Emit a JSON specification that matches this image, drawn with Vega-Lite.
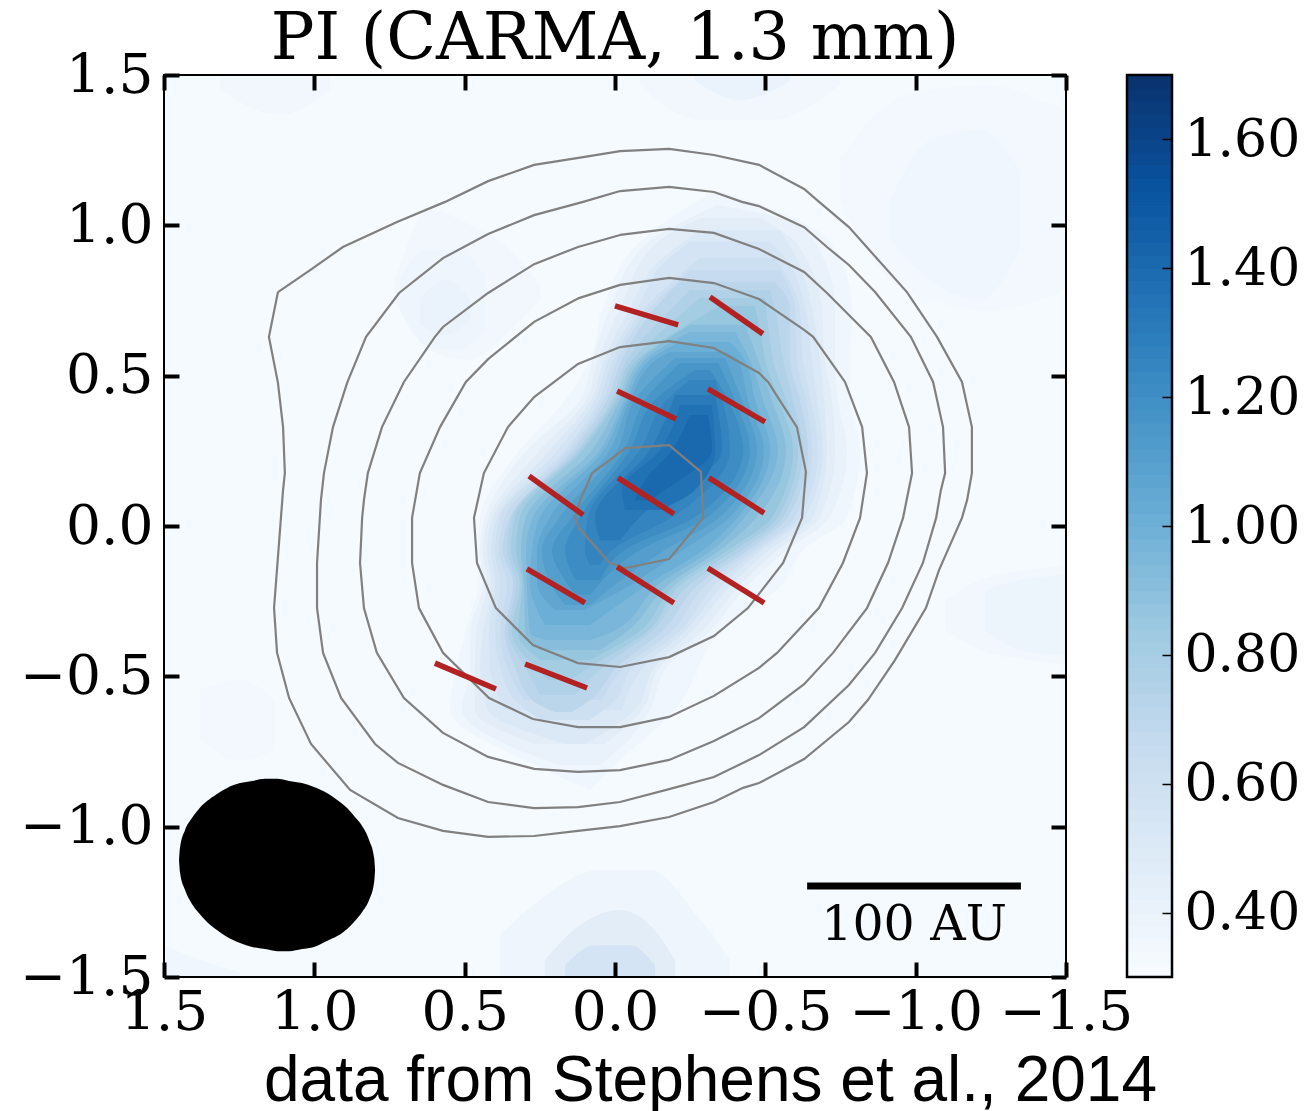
{"$schema":"https://vega.github.io/schema/vega-lite/v6.json","background":"white","padding":{"left":19,"top":7,"right":5,"bottom":5},"spacing":61,"bounds":"flush",
"datasets":{"blots":[
{"g":"a1","l":0.335,"x":1.38,"a":-0.545,"b":-0.712},{"g":"a1","l":0.335,"x":1.247,"a":-0.512,"b":-0.778},{"g":"a1","l":0.335,"x":1.13,"a":-0.579,"b":-0.745},
{"g":"a2","l":0.355,"x":1.5,"a":-1.394,"b":-1.5},{"g":"a2","l":0.355,"x":1.38,"a":-1.443,"b":-1.5},{"g":"a2","l":0.355,"x":1.247,"a":-1.483,"b":-1.5},
{"g":"a3","l":0.34,"x":0.732,"a":0.818,"b":0.752},{"g":"a3","l":0.34,"x":0.615,"a":1.051,"b":0.585},{"g":"a3","l":0.34,"x":0.482,"a":1.001,"b":0.552},{"g":"a3","l":0.34,"x":0.349,"a":0.918,"b":0.652},{"g":"a3","l":0.34,"x":0.249,"a":0.802,"b":0.752},
{"g":"a3b","l":0.365,"x":0.715,"a":0.818,"b":0.718},{"g":"a3b","l":0.365,"x":0.632,"a":0.918,"b":0.602},{"g":"a3b","l":0.365,"x":0.532,"a":0.918,"b":0.585},{"g":"a3b","l":0.365,"x":0.432,"a":0.835,"b":0.652},
{"g":"a3c","l":0.39,"x":0.649,"a":0.755,"b":0.669},{"g":"a3c","l":0.39,"x":0.565,"a":0.818,"b":0.635},{"g":"a3c","l":0.39,"x":0.482,"a":0.752,"b":0.685},
{"g":"a4","l":0.33,"x":-0.748,"a":1.217,"b":1.084},{"g":"a4","l":0.33,"x":-0.881,"a":1.384,"b":0.851},{"g":"a4","l":0.33,"x":-1.048,"a":1.45,"b":0.752},{"g":"a4","l":0.33,"x":-1.247,"a":1.467,"b":0.718},{"g":"a4","l":0.33,"x":-1.414,"a":1.417,"b":0.752},{"g":"a4","l":0.33,"x":-1.5,"a":1.384,"b":0.785},
{"g":"a4b","l":0.355,"x":-0.915,"a":1.084,"b":0.951},{"g":"a4b","l":0.355,"x":-1.048,"a":1.284,"b":0.818},{"g":"a4b","l":0.355,"x":-1.214,"a":1.317,"b":0.752},{"g":"a4b","l":0.355,"x":-1.347,"a":1.184,"b":0.918},
{"g":"a5","l":0.345,"x":-0.083,"a":1.5,"b":1.467},{"g":"a5","l":0.345,"x":-0.283,"a":1.5,"b":1.35},{"g":"a5","l":0.345,"x":-0.516,"a":1.5,"b":1.35},{"g":"a5","l":0.345,"x":-0.748,"a":1.5,"b":1.467},
{"g":"a5b","l":0.39,"x":-0.266,"a":1.5,"b":1.48},{"g":"a5b","l":0.39,"x":-0.416,"a":1.5,"b":1.417},{"g":"a5b","l":0.39,"x":-0.582,"a":1.5,"b":1.48},
{"g":"a5c","l":0.345,"x":1.314,"a":1.5,"b":1.45},{"g":"a5c","l":0.345,"x":1.114,"a":1.5,"b":1.367},{"g":"a5c","l":0.345,"x":0.948,"a":1.5,"b":1.45},
{"g":"a6","l":0.34,"x":-1.098,"a":-0.246,"b":-0.346},{"g":"a6","l":0.34,"x":-1.214,"a":-0.18,"b":-0.412},{"g":"a6","l":0.34,"x":-1.38,"a":-0.146,"b":-0.446},{"g":"a6","l":0.34,"x":-1.5,"a":-0.13,"b":-0.462},
{"g":"a6b","l":0.375,"x":-1.231,"a":-0.213,"b":-0.346},{"g":"a6b","l":0.375,"x":-1.347,"a":-0.18,"b":-0.412},{"g":"a6b","l":0.375,"x":-1.5,"a":-0.163,"b":-0.429},
{"g":"a7","l":0.36,"x":0.382,"a":-1.36,"b":-1.5},{"g":"a7","l":0.36,"x":0.249,"a":-1.243,"b":-1.5},{"g":"a7","l":0.36,"x":0.05,"a":-1.144,"b":-1.5},{"g":"a7","l":0.36,"x":-0.116,"a":-1.144,"b":-1.5},{"g":"a7","l":0.36,"x":-0.283,"a":-1.31,"b":-1.5},{"g":"a7","l":0.36,"x":-0.382,"a":-1.443,"b":-1.5},
{"g":"a8","l":0.45,"x":0.233,"a":-1.443,"b":-1.5},{"g":"a8","l":0.45,"x":0.116,"a":-1.327,"b":-1.5},{"g":"a8","l":0.45,"x":-0.017,"a":-1.277,"b":-1.5},{"g":"a8","l":0.45,"x":-0.116,"a":-1.327,"b":-1.5},{"g":"a8","l":0.45,"x":-0.2,"a":-1.443,"b":-1.5},
{"g":"a9","l":0.55,"x":0.166,"a":-1.46,"b":-1.5},{"g":"a9","l":0.55,"x":0.067,"a":-1.394,"b":-1.5},{"g":"a9","l":0.55,"x":-0.05,"a":-1.394,"b":-1.5},{"g":"a9","l":0.55,"x":-0.133,"a":-1.46,"b":-1.5}
],
"bands":[
{"l":0.35,"y":1.118,"a":-0.336,"b":-0.336},{"l":0.35,"y":0.945,"a":-0.083,"b":-0.715},{"l":0.35,"y":0.725,"a":0.04,"b":-0.788},{"l":0.35,"y":0.552,"a":0.083,"b":-0.782},{"l":0.35,"y":0.419,"a":0.166,"b":-0.782},{"l":0.35,"y":0.253,"a":0.316,"b":-0.815},{"l":0.35,"y":0.03,"a":0.449,"b":-0.772},{"l":0.35,"y":-0.08,"a":0.456,"b":-0.626},{"l":0.35,"y":-0.19,"a":0.456,"b":-0.559},{"l":0.35,"y":-0.356,"a":0.499,"b":-0.349},{"l":0.35,"y":-0.612,"a":0.549,"b":-0.2},{"l":0.35,"y":-0.795,"a":0.266,"b":0},{"l":0.35,"y":-0.878,"a":0.083,"b":0.083},
{"l":0.4,"y":1.068,"a":-0.336,"b":-0.336},{"l":0.4,"y":1.024,"a":-0.249,"b":-0.549},{"l":0.4,"y":0.945,"a":-0.11,"b":-0.665},{"l":0.4,"y":0.725,"a":0.017,"b":-0.732},{"l":0.4,"y":0.552,"a":0.076,"b":-0.732},{"l":0.4,"y":0.419,"a":0.116,"b":-0.742},{"l":0.4,"y":0.253,"a":0.293,"b":-0.772},{"l":0.4,"y":0.03,"a":0.432,"b":-0.715},{"l":0.4,"y":-0.08,"a":0.449,"b":-0.572},{"l":0.4,"y":-0.19,"a":0.439,"b":-0.449},{"l":0.4,"y":-0.356,"a":0.482,"b":-0.309},{"l":0.4,"y":-0.469,"a":0.482,"b":-0.173},{"l":0.4,"y":-0.612,"a":0.509,"b":-0.116},{"l":0.4,"y":-0.725,"a":0.366,"b":-0.033},{"l":0.4,"y":-0.795,"a":0.183,"b":0.05},
{"l":0.45,"y":1.024,"a":-0.283,"b":-0.482},{"l":0.45,"y":0.945,"a":-0.143,"b":-0.599},{"l":0.45,"y":0.725,"a":-0.017,"b":-0.688},{"l":0.45,"y":0.552,"a":0.057,"b":-0.698},{"l":0.45,"y":0.419,"a":0.096,"b":-0.722},{"l":0.45,"y":0.253,"a":0.249,"b":-0.732},{"l":0.45,"y":0.03,"a":0.419,"b":-0.682},{"l":0.45,"y":-0.08,"a":0.439,"b":-0.542},{"l":0.45,"y":-0.19,"a":0.426,"b":-0.422},{"l":0.45,"y":-0.356,"a":0.462,"b":-0.283},{"l":0.45,"y":-0.469,"a":0.466,"b":-0.15},{"l":0.45,"y":-0.612,"a":0.466,"b":-0.09},{"l":0.45,"y":-0.725,"a":0.266,"b":0.033},
{"l":0.5,"y":0.984,"a":-0.283,"b":-0.549},{"l":0.5,"y":0.868,"a":-0.133,"b":-0.615},{"l":0.5,"y":0.725,"a":-0.05,"b":-0.655},{"l":0.5,"y":0.552,"a":0.037,"b":-0.682},{"l":0.5,"y":0.419,"a":0.08,"b":-0.695},{"l":0.5,"y":0.253,"a":0.216,"b":-0.705},{"l":0.5,"y":0.03,"a":0.406,"b":-0.659},{"l":0.5,"y":-0.08,"a":0.426,"b":-0.512},{"l":0.5,"y":-0.19,"a":0.412,"b":-0.392},{"l":0.5,"y":-0.356,"a":0.439,"b":-0.249},{"l":0.5,"y":-0.469,"a":0.449,"b":-0.133},{"l":0.5,"y":-0.612,"a":0.422,"b":-0.066},{"l":0.5,"y":-0.725,"a":0.166,"b":0.1},
{"l":0.55,"y":0.945,"a":-0.249,"b":-0.516},{"l":0.55,"y":0.868,"a":-0.156,"b":-0.582},{"l":0.55,"y":0.725,"a":-0.076,"b":-0.632},{"l":0.55,"y":0.552,"a":0.023,"b":-0.655},{"l":0.55,"y":0.419,"a":0.067,"b":-0.672},{"l":0.55,"y":0.253,"a":0.19,"b":-0.692},{"l":0.55,"y":0.03,"a":0.392,"b":-0.632},{"l":0.55,"y":-0.08,"a":0.412,"b":-0.489},{"l":0.55,"y":-0.19,"a":0.399,"b":-0.366},{"l":0.55,"y":-0.356,"a":0.419,"b":-0.226},{"l":0.55,"y":-0.469,"a":0.416,"b":-0.096},{"l":0.55,"y":-0.612,"a":0.366,"b":-0.023},
{"l":0.6,"y":0.891,"a":-0.283,"b":-0.532},{"l":0.6,"y":0.725,"a":-0.1,"b":-0.615},{"l":0.6,"y":0.552,"a":0.007,"b":-0.625},{"l":0.6,"y":0.419,"a":0.053,"b":-0.652},{"l":0.6,"y":0.253,"a":0.166,"b":-0.675},{"l":0.6,"y":0.03,"a":0.382,"b":-0.615},{"l":0.6,"y":-0.08,"a":0.399,"b":-0.476},{"l":0.6,"y":-0.19,"a":0.382,"b":-0.339},{"l":0.6,"y":-0.356,"a":0.399,"b":-0.209},{"l":0.6,"y":-0.469,"a":0.382,"b":-0.06},{"l":0.6,"y":-0.579,"a":0.333,"b":0},{"l":0.6,"y":-0.645,"a":0.249,"b":0.083},
{"l":0.65,"y":0.851,"a":-0.249,"b":-0.549},{"l":0.65,"y":0.725,"a":-0.116,"b":-0.599},{"l":0.65,"y":0.552,"a":-0.007,"b":-0.605},{"l":0.65,"y":0.419,"a":0.04,"b":-0.635},{"l":0.65,"y":0.253,"a":0.153,"b":-0.655},{"l":0.65,"y":0.03,"a":0.366,"b":-0.599},{"l":0.65,"y":-0.08,"a":0.386,"b":-0.459},{"l":0.65,"y":-0.19,"a":0.359,"b":-0.309},{"l":0.65,"y":-0.356,"a":0.382,"b":-0.183},{"l":0.65,"y":-0.469,"a":0.359,"b":-0.033},{"l":0.65,"y":-0.579,"a":0.303,"b":0.043},
{"l":0.7,"y":0.812,"a":-0.216,"b":-0.532},{"l":0.7,"y":0.725,"a":-0.133,"b":-0.582},{"l":0.7,"y":0.552,"a":-0.023,"b":-0.582},{"l":0.7,"y":0.419,"a":0.027,"b":-0.615},{"l":0.7,"y":0.253,"a":0.14,"b":-0.642},{"l":0.7,"y":0.03,"a":0.349,"b":-0.575},{"l":0.7,"y":-0.08,"a":0.373,"b":-0.442},{"l":0.7,"y":-0.19,"a":0.339,"b":-0.283},{"l":0.7,"y":-0.356,"a":0.366,"b":-0.15},{"l":0.7,"y":-0.469,"a":0.333,"b":-0.007},{"l":0.7,"y":-0.579,"a":0.276,"b":0.083},{"l":0.7,"y":-0.619,"a":0.2,"b":0.143},
{"l":0.75,"y":0.785,"a":-0.249,"b":-0.516},{"l":0.75,"y":0.725,"a":-0.19,"b":-0.532},{"l":0.75,"y":0.552,"a":-0.04,"b":-0.559},{"l":0.75,"y":0.419,"a":0.013,"b":-0.592},{"l":0.75,"y":0.253,"a":0.126,"b":-0.625},{"l":0.75,"y":0.03,"a":0.343,"b":-0.559},{"l":0.75,"y":-0.08,"a":0.359,"b":-0.422},{"l":0.75,"y":-0.19,"a":0.329,"b":-0.253},{"l":0.75,"y":-0.356,"a":0.356,"b":-0.116},{"l":0.75,"y":-0.469,"a":0.299,"b":0.04},{"l":0.75,"y":-0.562,"a":0.249,"b":0.133},
{"l":0.8,"y":0.758,"a":-0.283,"b":-0.499},{"l":0.8,"y":0.612,"a":-0.116,"b":-0.516},{"l":0.8,"y":0.552,"a":-0.057,"b":-0.525},{"l":0.8,"y":0.419,"a":0.003,"b":-0.569},{"l":0.8,"y":0.253,"a":0.116,"b":-0.609},{"l":0.8,"y":0.03,"a":0.333,"b":-0.542},{"l":0.8,"y":-0.08,"a":0.346,"b":-0.399},{"l":0.8,"y":-0.19,"a":0.316,"b":-0.226},{"l":0.8,"y":-0.356,"a":0.343,"b":-0.1},{"l":0.8,"y":-0.469,"a":0.266,"b":0.083},{"l":0.8,"y":-0.512,"a":0.223,"b":0.15},
{"l":0.85,"y":0.732,"a":-0.349,"b":-0.466},{"l":0.85,"y":0.612,"a":-0.15,"b":-0.489},{"l":0.85,"y":0.552,"a":-0.073,"b":-0.499},{"l":0.85,"y":0.419,"a":-0.007,"b":-0.545},{"l":0.85,"y":0.253,"a":0.106,"b":-0.592},{"l":0.85,"y":0.03,"a":0.316,"b":-0.522},{"l":0.85,"y":-0.08,"a":0.329,"b":-0.376},{"l":0.85,"y":-0.19,"a":0.309,"b":-0.206},{"l":0.85,"y":-0.356,"a":0.323,"b":-0.073},{"l":0.85,"y":-0.446,"a":0.249,"b":0.083},
{"l":0.9,"y":0.669,"a":-0.249,"b":-0.432},{"l":0.9,"y":0.552,"a":-0.086,"b":-0.476},{"l":0.9,"y":0.419,"a":-0.017,"b":-0.522},{"l":0.9,"y":0.253,"a":0.076,"b":-0.569},{"l":0.9,"y":0.03,"a":0.296,"b":-0.472},{"l":0.9,"y":-0.08,"a":0.313,"b":-0.349},{"l":0.9,"y":-0.19,"a":0.303,"b":-0.183},{"l":0.9,"y":-0.356,"a":0.299,"b":-0.033},{"l":0.9,"y":-0.412,"a":0.249,"b":0.05},
{"l":0.95,"y":0.645,"a":-0.249,"b":-0.399},{"l":0.95,"y":0.552,"a":-0.1,"b":-0.449},{"l":0.95,"y":0.419,"a":-0.03,"b":-0.492},{"l":0.95,"y":0.253,"a":0.05,"b":-0.542},{"l":0.95,"y":0.03,"a":0.273,"b":-0.432},{"l":0.95,"y":-0.08,"a":0.296,"b":-0.323},{"l":0.95,"y":-0.19,"a":0.293,"b":-0.15},{"l":0.95,"y":-0.356,"a":0.283,"b":0.017},{"l":0.95,"y":-0.379,"a":0.233,"b":0.083},
{"l":1.0,"y":0.612,"a":-0.216,"b":-0.382},{"l":1.0,"y":0.552,"a":-0.116,"b":-0.432},{"l":1.0,"y":0.419,"a":-0.04,"b":-0.466},{"l":1.0,"y":0.253,"a":0.037,"b":-0.516},{"l":1.0,"y":0.03,"a":0.249,"b":-0.409},{"l":1.0,"y":-0.08,"a":0.276,"b":-0.293},{"l":1.0,"y":-0.19,"a":0.283,"b":-0.116},{"l":1.0,"y":-0.329,"a":0.233,"b":0.083},
{"l":1.05,"y":0.579,"a":-0.183,"b":-0.366},{"l":1.05,"y":0.552,"a":-0.136,"b":-0.409},{"l":1.05,"y":0.419,"a":-0.05,"b":-0.442},{"l":1.05,"y":0.253,"a":0.017,"b":-0.495},{"l":1.05,"y":0.03,"a":0.216,"b":-0.382},{"l":1.05,"y":-0.08,"a":0.259,"b":-0.226},{"l":1.05,"y":-0.19,"a":0.259,"b":-0.06},{"l":1.05,"y":-0.279,"a":0.2,"b":0.1},
{"l":1.1,"y":0.559,"a":-0.2,"b":-0.366},{"l":1.1,"y":0.419,"a":-0.066,"b":-0.422},{"l":1.1,"y":0.253,"a":-0.007,"b":-0.472},{"l":1.1,"y":0.03,"a":0.183,"b":-0.349},{"l":1.1,"y":-0.08,"a":0.243,"b":-0.166},{"l":1.1,"y":-0.19,"a":0.216,"b":-0.007},{"l":1.1,"y":-0.263,"a":0.166,"b":0.083},
{"l":1.15,"y":0.542,"a":-0.216,"b":-0.343},{"l":1.15,"y":0.419,"a":-0.1,"b":-0.399},{"l":1.15,"y":0.253,"a":-0.03,"b":-0.449},{"l":1.15,"y":0.03,"a":0.143,"b":-0.309},{"l":1.15,"y":-0.08,"a":0.21,"b":-0.083},{"l":1.15,"y":-0.19,"a":0.16,"b":0.05},{"l":1.15,"y":-0.229,"a":0.133,"b":0.083},
{"l":1.2,"y":0.519,"a":-0.266,"b":-0.316},{"l":1.2,"y":0.419,"a":-0.133,"b":-0.376},{"l":1.2,"y":0.253,"a":-0.05,"b":-0.426},{"l":1.2,"y":0.03,"a":0.116,"b":-0.266},{"l":1.2,"y":-0.08,"a":0.166,"b":-0.033},{"l":1.2,"y":-0.18,"a":0.133,"b":0.05},
{"l":1.25,"y":0.486,"a":-0.249,"b":-0.333},{"l":1.25,"y":0.419,"a":-0.173,"b":-0.356},{"l":1.25,"y":0.253,"a":-0.083,"b":-0.382},{"l":1.25,"y":0.03,"a":0.09,"b":-0.19},{"l":1.25,"y":-0.08,"a":0.1,"b":0.01},{"l":1.25,"y":-0.13,"a":0.083,"b":0.05},
{"l":1.3,"y":0.436,"a":-0.2,"b":-0.333},{"l":1.3,"y":0.253,"a":-0.116,"b":-0.356},{"l":1.3,"y":0.03,"a":0.066,"b":-0.083},{"l":1.3,"y":-0.047,"a":0.05,"b":-0.017},
{"l":1.35,"y":0.402,"a":-0.216,"b":-0.323},{"l":1.35,"y":0.253,"a":-0.15,"b":-0.333},{"l":1.35,"y":0.12,"a":-0.023,"b":-0.266},{"l":1.35,"y":0.053,"a":-0.033,"b":-0.15},
{"l":1.4,"y":0.369,"a":-0.249,"b":-0.309},{"l":1.4,"y":0.253,"a":-0.19,"b":-0.323},{"l":1.4,"y":0.153,"a":-0.1,"b":-0.216},{"l":1.4,"y":0.086,"a":-0.066,"b":-0.116}
],
"contours":[
{"c":1,"i":1,"x":1.121,"y":0.778},{"c":1,"i":2,"x":1.151,"y":0.629},{"c":1,"i":3,"x":1.121,"y":0.476},{"c":1,"i":4,"x":1.104,"y":0.329},{"c":1,"i":5,"x":1.098,"y":0.176},{"c":1,"i":6,"x":1.104,"y":0.12},{"c":1,"i":7,"x":1.134,"y":-0.273},{"c":1,"i":8,"x":1.124,"y":-0.422},{"c":1,"i":9,"x":1.084,"y":-0.572},{"c":1,"i":10,"x":1.011,"y":-0.725},{"c":1,"i":11,"x":0.881,"y":-0.878},{"c":1,"i":12,"x":0.722,"y":-0.971},{"c":1,"i":13,"x":0.572,"y":-1.014},{"c":1,"i":14,"x":0.422,"y":-1.034},{"c":1,"i":15,"x":0.269,"y":-1.031},{"c":1,"i":16,"x":0.123,"y":-1.014},{"c":1,"i":17,"x":-0.017,"y":-0.998},{"c":1,"i":18,"x":-0.18,"y":-0.968},{"c":1,"i":19,"x":-0.329,"y":-0.918},{"c":1,"i":20,"x":-0.426,"y":-0.871},{"c":1,"i":21,"x":-0.479,"y":-0.855},{"c":1,"i":22,"x":-0.629,"y":-0.775},{"c":1,"i":23,"x":-0.778,"y":-0.652},{"c":1,"i":24,"x":-0.841,"y":-0.579},{"c":1,"i":25,"x":-0.931,"y":-0.446},{"c":1,"i":26,"x":-1.034,"y":-0.273},{"c":1,"i":27,"x":-1.078,"y":-0.146},{"c":1,"i":28,"x":-1.154,"y":0.027},{"c":1,"i":29,"x":-1.171,"y":0.086},{"c":1,"i":30,"x":-1.187,"y":0.176},{"c":1,"i":31,"x":-1.187,"y":0.329},{"c":1,"i":32,"x":-1.154,"y":0.479},{"c":1,"i":33,"x":-1.071,"y":0.629},{"c":1,"i":34,"x":-0.971,"y":0.778},{"c":1,"i":35,"x":-0.778,"y":0.994},{"c":1,"i":36,"x":-0.672,"y":1.084},{"c":1,"i":37,"x":-0.629,"y":1.121},{"c":1,"i":38,"x":-0.479,"y":1.201},{"c":1,"i":39,"x":-0.329,"y":1.234},{"c":1,"i":40,"x":-0.18,"y":1.254},{"c":1,"i":41,"x":-0.017,"y":1.247},{"c":1,"i":42,"x":0.106,"y":1.227},{"c":1,"i":43,"x":0.269,"y":1.201},{"c":1,"i":44,"x":0.422,"y":1.147},{"c":1,"i":45,"x":0.565,"y":1.078},{"c":1,"i":46,"x":0.725,"y":1.011},{"c":1,"i":47,"x":0.905,"y":0.928},{"c":1,"i":48,"x":1.014,"y":0.851},{"c":1,"i":49,"x":1.121,"y":0.778},
{"c":2,"i":1,"x":-0.017,"y":1.114},{"c":2,"i":2,"x":0.106,"y":1.078},{"c":2,"i":3,"x":0.269,"y":1.034},{"c":2,"i":4,"x":0.422,"y":0.971},{"c":2,"i":5,"x":0.572,"y":0.891},{"c":2,"i":6,"x":0.718,"y":0.775},{"c":2,"i":7,"x":0.828,"y":0.629},{"c":2,"i":8,"x":0.891,"y":0.476},{"c":2,"i":9,"x":0.938,"y":0.329},{"c":2,"i":10,"x":0.968,"y":0.176},{"c":2,"i":11,"x":0.978,"y":0.086},{"c":2,"i":12,"x":0.991,"y":-0.123},{"c":2,"i":13,"x":0.991,"y":-0.273},{"c":2,"i":14,"x":0.971,"y":-0.422},{"c":2,"i":15,"x":0.911,"y":-0.572},{"c":2,"i":16,"x":0.798,"y":-0.725},{"c":2,"i":17,"x":0.722,"y":-0.788},{"c":2,"i":18,"x":0.572,"y":-0.861},{"c":2,"i":19,"x":0.422,"y":-0.918},{"c":2,"i":20,"x":0.269,"y":-0.938},{"c":2,"i":21,"x":0.123,"y":-0.935},{"c":2,"i":22,"x":-0.017,"y":-0.918},{"c":2,"i":23,"x":-0.18,"y":-0.875},{"c":2,"i":24,"x":-0.329,"y":-0.835},{"c":2,"i":25,"x":-0.479,"y":-0.762},{"c":2,"i":26,"x":-0.629,"y":-0.669},{"c":2,"i":27,"x":-0.778,"y":-0.529},{"c":2,"i":28,"x":-0.865,"y":-0.422},{"c":2,"i":29,"x":-0.955,"y":-0.273},{"c":2,"i":30,"x":-1.024,"y":-0.123},{"c":2,"i":31,"x":-1.068,"y":0.027},{"c":2,"i":32,"x":-1.084,"y":0.12},{"c":2,"i":33,"x":-1.098,"y":0.176},{"c":2,"i":34,"x":-1.091,"y":0.329},{"c":2,"i":35,"x":-1.058,"y":0.479},{"c":2,"i":36,"x":-0.984,"y":0.629},{"c":2,"i":37,"x":-0.865,"y":0.778},{"c":2,"i":38,"x":-0.778,"y":0.868},{"c":2,"i":39,"x":-0.705,"y":0.928},{"c":2,"i":40,"x":-0.629,"y":0.994},{"c":2,"i":41,"x":-0.479,"y":1.064},{"c":2,"i":42,"x":-0.422,"y":1.078},{"c":2,"i":43,"x":-0.329,"y":1.111},{"c":2,"i":44,"x":-0.18,"y":1.128},{"c":2,"i":45,"x":-0.017,"y":1.114},
{"c":3,"i":1,"x":-0.017,"y":0.968},{"c":3,"i":2,"x":0.123,"y":0.928},{"c":3,"i":3,"x":0.269,"y":0.871},{"c":3,"i":4,"x":0.422,"y":0.775},{"c":3,"i":5,"x":0.572,"y":0.662},{"c":3,"i":6,"x":0.599,"y":0.629},{"c":3,"i":7,"x":0.702,"y":0.479},{"c":3,"i":8,"x":0.775,"y":0.329},{"c":3,"i":9,"x":0.822,"y":0.176},{"c":3,"i":10,"x":0.835,"y":0.086},{"c":3,"i":11,"x":0.841,"y":0.027},{"c":3,"i":12,"x":0.848,"y":-0.123},{"c":3,"i":13,"x":0.835,"y":-0.273},{"c":3,"i":14,"x":0.792,"y":-0.422},{"c":3,"i":15,"x":0.702,"y":-0.572},{"c":3,"i":16,"x":0.572,"y":-0.688},{"c":3,"i":17,"x":0.422,"y":-0.768},{"c":3,"i":18,"x":0.269,"y":-0.808},{"c":3,"i":19,"x":0.123,"y":-0.818},{"c":3,"i":20,"x":-0.017,"y":-0.812},{"c":3,"i":21,"x":-0.18,"y":-0.778},{"c":3,"i":22,"x":-0.329,"y":-0.715},{"c":3,"i":23,"x":-0.479,"y":-0.639},{"c":3,"i":24,"x":-0.629,"y":-0.526},{"c":3,"i":25,"x":-0.725,"y":-0.422},{"c":3,"i":26,"x":-0.838,"y":-0.273},{"c":3,"i":27,"x":-0.908,"y":-0.123},{"c":3,"i":28,"x":-0.958,"y":0.027},{"c":3,"i":29,"x":-0.988,"y":0.176},{"c":3,"i":30,"x":-0.978,"y":0.329},{"c":3,"i":31,"x":-0.928,"y":0.479},{"c":3,"i":32,"x":-0.851,"y":0.629},{"c":3,"i":33,"x":-0.778,"y":0.702},{"c":3,"i":34,"x":-0.705,"y":0.775},{"c":3,"i":35,"x":-0.629,"y":0.845},{"c":3,"i":36,"x":-0.479,"y":0.921},{"c":3,"i":37,"x":-0.329,"y":0.975},{"c":3,"i":38,"x":-0.18,"y":0.988},{"c":3,"i":39,"x":-0.017,"y":0.968},
{"c":4,"i":1,"x":-0.017,"y":0.802},{"c":4,"i":2,"x":0.12,"y":0.758},{"c":4,"i":3,"x":0.269,"y":0.679},{"c":4,"i":4,"x":0.422,"y":0.555},{"c":4,"i":5,"x":0.496,"y":0.479},{"c":4,"i":6,"x":0.582,"y":0.329},{"c":4,"i":7,"x":0.649,"y":0.176},{"c":4,"i":8,"x":0.675,"y":0.027},{"c":4,"i":9,"x":0.675,"y":-0.123},{"c":4,"i":10,"x":0.652,"y":-0.273},{"c":4,"i":11,"x":0.572,"y":-0.422},{"c":4,"i":12,"x":0.419,"y":-0.572},{"c":4,"i":13,"x":0.273,"y":-0.642},{"c":4,"i":14,"x":0.123,"y":-0.669},{"c":4,"i":15,"x":-0.017,"y":-0.669},{"c":4,"i":16,"x":-0.18,"y":-0.635},{"c":4,"i":17,"x":-0.329,"y":-0.565},{"c":4,"i":18,"x":-0.479,"y":-0.472},{"c":4,"i":19,"x":-0.539,"y":-0.422},{"c":4,"i":20,"x":-0.678,"y":-0.273},{"c":4,"i":21,"x":-0.758,"y":-0.123},{"c":4,"i":22,"x":-0.815,"y":0.027},{"c":4,"i":23,"x":-0.838,"y":0.176},{"c":4,"i":24,"x":-0.822,"y":0.329},{"c":4,"i":25,"x":-0.765,"y":0.479},{"c":4,"i":26,"x":-0.659,"y":0.629},{"c":4,"i":27,"x":-0.629,"y":0.652},{"c":4,"i":28,"x":-0.479,"y":0.755},{"c":4,"i":29,"x":-0.329,"y":0.808},{"c":4,"i":30,"x":-0.18,"y":0.825},{"c":4,"i":31,"x":-0.017,"y":0.802},
{"c":5,"i":1,"x":-0.017,"y":0.595},{"c":5,"i":2,"x":0.123,"y":0.539},{"c":5,"i":3,"x":0.269,"y":0.429},{"c":5,"i":4,"x":0.356,"y":0.329},{"c":5,"i":5,"x":0.436,"y":0.176},{"c":5,"i":6,"x":0.469,"y":0.027},{"c":5,"i":7,"x":0.459,"y":-0.123},{"c":5,"i":8,"x":0.396,"y":-0.273},{"c":5,"i":9,"x":0.273,"y":-0.396},{"c":5,"i":10,"x":0.123,"y":-0.456},{"c":5,"i":11,"x":-0.017,"y":-0.469},{"c":5,"i":12,"x":-0.18,"y":-0.436},{"c":5,"i":13,"x":-0.329,"y":-0.366},{"c":5,"i":14,"x":-0.442,"y":-0.273},{"c":5,"i":15,"x":-0.559,"y":-0.123},{"c":5,"i":16,"x":-0.622,"y":0.027},{"c":5,"i":17,"x":-0.635,"y":0.18},{"c":5,"i":18,"x":-0.605,"y":0.329},{"c":5,"i":19,"x":-0.509,"y":0.479},{"c":5,"i":20,"x":-0.479,"y":0.509},{"c":5,"i":21,"x":-0.329,"y":0.592},{"c":5,"i":22,"x":-0.18,"y":0.615},{"c":5,"i":23,"x":-0.017,"y":0.595},
{"c":6,"i":1,"x":-0.017,"y":0.246},{"c":6,"i":2,"x":0.076,"y":0.176},{"c":6,"i":3,"x":0.116,"y":0.086},{"c":6,"i":4,"x":0.133,"y":0.027},{"c":6,"i":5,"x":0.12,"y":-0.007},{"c":6,"i":6,"x":0.017,"y":-0.123},{"c":6,"i":7,"x":-0.033,"y":-0.14},{"c":6,"i":8,"x":-0.18,"y":-0.11},{"c":6,"i":9,"x":-0.293,"y":0.027},{"c":6,"i":10,"x":-0.286,"y":0.18},{"c":6,"i":11,"x":-0.18,"y":0.269},{"c":6,"i":12,"x":-0.033,"y":0.259},{"c":6,"i":13,"x":-0.017,"y":0.246}
],
"vectors":[
{"x":0,"y":0.732,"x2":-0.21,"y2":0.669},{"x":-0.316,"y":0.762,"x2":-0.492,"y2":0.639},{"x":-0.007,"y":0.449,"x2":-0.203,"y2":0.356},{"x":-0.309,"y":0.456,"x2":-0.499,"y2":0.346},{"x":-0.01,"y":0.16,"x2":-0.196,"y2":0.04},{"x":-0.313,"y":0.16,"x2":-0.496,"y2":0.043},{"x":0.286,"y":0.166,"x2":0.106,"y2":0.037},{"x":0.293,"y":-0.143,"x2":0.1,"y2":-0.256},{"x":-0.007,"y":-0.136,"x2":-0.196,"y2":-0.256},{"x":-0.309,"y":-0.14,"x2":-0.496,"y2":-0.256},{"x":0.599,"y":-0.456,"x2":0.396,"y2":-0.542},{"x":0.299,"y":-0.459,"x2":0.093,"y2":-0.539}
],
"beam":[
{"x":1.45,"a":-1.111,"b":-1.111},{"x":1.447,"a":-1.071,"b":-1.151},{"x":1.43,"a":-1.011,"b":-1.211},{"x":1.407,"a":-0.971,"b":-1.257},{"x":1.384,"a":-0.941,"b":-1.287},{"x":1.357,"a":-0.915,"b":-1.317},{"x":1.324,"a":-0.891,"b":-1.344},{"x":1.29,"a":-0.871,"b":-1.367},{"x":1.247,"a":-0.855,"b":-1.387},{"x":1.207,"a":-0.848,"b":-1.4},{"x":1.164,"a":-0.841,"b":-1.407},{"x":1.124,"a":-0.841,"b":-1.414},{"x":1.084,"a":-0.848,"b":-1.414},{"x":1.041,"a":-0.855,"b":-1.407},{"x":1.001,"a":-0.868,"b":-1.4},{"x":0.958,"a":-0.888,"b":-1.38},{"x":0.924,"a":-0.911,"b":-1.364},{"x":0.891,"a":-0.938,"b":-1.34},{"x":0.865,"a":-0.968,"b":-1.314},{"x":0.841,"a":-0.998,"b":-1.284},{"x":0.818,"a":-1.044,"b":-1.244},{"x":0.801,"a":-1.104,"b":-1.184},{"x":0.798,"a":-1.144,"b":-1.144}
],
"bar":[{"v":0.30,"w":0.32},{"v":0.32,"w":0.34},{"v":0.34,"w":0.36},{"v":0.36,"w":0.38},{"v":0.38,"w":0.40},{"v":0.40,"w":0.42},{"v":0.42,"w":0.44},{"v":0.44,"w":0.46},{"v":0.46,"w":0.48},{"v":0.48,"w":0.50},{"v":0.50,"w":0.52},{"v":0.52,"w":0.54},{"v":0.54,"w":0.56},{"v":0.56,"w":0.58},{"v":0.58,"w":0.60},{"v":0.60,"w":0.62},{"v":0.62,"w":0.64},{"v":0.64,"w":0.66},{"v":0.66,"w":0.68},{"v":0.68,"w":0.70},{"v":0.70,"w":0.72},{"v":0.72,"w":0.74},{"v":0.74,"w":0.76},{"v":0.76,"w":0.78},{"v":0.78,"w":0.80},{"v":0.80,"w":0.82},{"v":0.82,"w":0.84},{"v":0.84,"w":0.86},{"v":0.86,"w":0.88},{"v":0.88,"w":0.90},{"v":0.90,"w":0.92},{"v":0.92,"w":0.94},{"v":0.94,"w":0.96},{"v":0.96,"w":0.98},{"v":0.98,"w":1.00},{"v":1.00,"w":1.02},{"v":1.02,"w":1.04},{"v":1.04,"w":1.06},{"v":1.06,"w":1.08},{"v":1.08,"w":1.10},{"v":1.10,"w":1.12},{"v":1.12,"w":1.14},{"v":1.14,"w":1.16},{"v":1.16,"w":1.18},{"v":1.18,"w":1.20},{"v":1.20,"w":1.22},{"v":1.22,"w":1.24},{"v":1.24,"w":1.26},{"v":1.26,"w":1.28},{"v":1.28,"w":1.30},{"v":1.30,"w":1.32},{"v":1.32,"w":1.34},{"v":1.34,"w":1.36},{"v":1.36,"w":1.38},{"v":1.38,"w":1.40},{"v":1.40,"w":1.42},{"v":1.42,"w":1.44},{"v":1.44,"w":1.46},{"v":1.46,"w":1.48},{"v":1.48,"w":1.50},{"v":1.50,"w":1.52},{"v":1.52,"w":1.54},{"v":1.54,"w":1.56},{"v":1.56,"w":1.58},{"v":1.58,"w":1.60},{"v":1.60,"w":1.62},{"v":1.62,"w":1.64},{"v":1.64,"w":1.66},{"v":1.66,"w":1.68},{"v":1.68,"w":1.70}]
},
"hconcat":[
{"width":902,"height":902,
"title":{"text":"PI (CARMA, 1.3 mm)","font":"DejaVu Serif","fontSize":65,"fontWeight":"normal","color":"black","anchor":"middle","offset":-25},
"view":{"fill":"#f5fafe","stroke":null},
"resolve":{"axis":{"x":"independent","y":"independent"}},
"layer":[
{"data":{"name":"blots"},"mark":{"type":"area","interpolate":"monotone","clip":true},
"encoding":{"x":{"field":"x","type":"quantitative","axis":null},"y":{"field":"a","type":"quantitative","axis":null},"y2":{"field":"b"},"detail":{"field":"g"},
"fill":{"field":"l","type":"quantitative","legend":null,"scale":{"domain":[0.3,0.475,0.65,0.825,1.0,1.175,1.35,1.525,1.7],"range":["#f7fbff","#deebf7","#c6dbef","#9ecae1","#6baed6","#4292c6","#2171b5","#08519c","#08306b"]}}}},
{"data":{"name":"bands"},"mark":{"type":"area","orient":"horizontal","interpolate":"monotone","clip":true},
"encoding":{"y":{"field":"y","type":"quantitative","axis":null},"x":{"field":"a","type":"quantitative","axis":null},"x2":{"field":"b"},"detail":{"field":"l"},
"fill":{"field":"l","type":"quantitative","legend":null}}},
{"data":{"name":"contours"},"mark":{"type":"line","color":"#808080","strokeWidth":2.2},
"encoding":{"x":{"field":"x","type":"quantitative","scale":{"domain":[1.5,-1.5],"nice":false,"zero":false},
"axis":{"orient":"bottom","zindex":1,"values":[1.5,1,0.5,0,-0.5,-1,-1.5],"format":".1f","grid":false,"domain":false,"tickColor":"black","tickWidth":4,"tickSize":-15,"labelFont":"DejaVu Serif","labelFontSize":55,"labelColor":"black","labelPadding":24,"labelOverlap":false,"labelFlush":false,"title":"data from Stephens et al., 2014","titleFont":"Liberation Sans","titleFontSize":64,"titleFontWeight":"normal","titleColor":"black","titleX":546,"titleY":123,"titleAlign":"center","titleBaseline":"alphabetic"}},
"y":{"field":"y","type":"quantitative","scale":{"domain":[-1.5,1.5],"nice":false,"zero":false},
"axis":{"orient":"left","zindex":1,"values":[1.5,1,0.5,0,-0.5,-1,-1.5],"format":".1f","grid":false,"domain":false,"tickColor":"black","tickWidth":4,"tickSize":-15,"labelFont":"DejaVu Serif","labelFontSize":55,"labelColor":"black","labelPadding":26,"labelOverlap":false,"labelFlush":false,"title":null}},
"detail":{"field":"c"},"order":{"field":"i","type":"quantitative"}}},
{"data":{"name":"vectors"},"mark":{"type":"rule","color":"#b22222","strokeWidth":5.5},
"encoding":{"x":{"field":"x","type":"quantitative","axis":{"orient":"top","zindex":1,"values":[1.5,1,0.5,0,-0.5,-1,-1.5],"labels":false,"grid":false,"domain":false,"tickColor":"black","tickWidth":4,"tickSize":-15,"title":null}},"y":{"field":"y","type":"quantitative","axis":{"orient":"right","zindex":1,"values":[1.5,1,0.5,0,-0.5,-1,-1.5],"labels":false,"grid":false,"domain":false,"tickColor":"black","tickWidth":4,"tickSize":-15,"title":null}},"x2":{"field":"x2"},"y2":{"field":"y2"}}},
{"data":{"name":"beam"},"mark":{"type":"area","interpolate":"monotone","color":"black"},
"encoding":{"x":{"field":"x","type":"quantitative","axis":null},"y":{"field":"a","type":"quantitative","axis":null},"y2":{"field":"b"}}},
{"data":{"values":[{"x":-0.639,"y":-1.197,"x2":-1.35}]},"mark":{"type":"rule","color":"black","strokeWidth":7},
"encoding":{"x":{"field":"x","type":"quantitative","axis":null},"y":{"field":"y","type":"quantitative","axis":null},"x2":{"field":"x2"}}},
{"data":{"values":[{"x":-0.995,"y":-1.327,"t":"100 AU"}]},"mark":{"type":"text","font":"DejaVu Serif","fontSize":49,"color":"black"},
"encoding":{"x":{"field":"x","type":"quantitative","axis":null},"y":{"field":"y","type":"quantitative","axis":null},"text":{"field":"t"}}},
{"data":{"values":[{"x":1.5,"x2":-1.5,"y":-1.5,"y2":1.5}]},"mark":{"type":"rect","filled":false,"stroke":"black","strokeWidth":2},
"encoding":{"x":{"field":"x","type":"quantitative","axis":null},"x2":{"field":"x2"},"y":{"field":"y","type":"quantitative","axis":null},"y2":{"field":"y2"}}}
]},
{"width":45,"height":902,"view":{"stroke":null},
"layer":[
{"data":{"name":"bar"},"mark":{"type":"rect","strokeWidth":1},
"encoding":{"y":{"field":"v","type":"quantitative","scale":{"domain":[0.3,1.7],"nice":false,"zero":false},
"axis":{"orient":"right","zindex":1,"values":[0.4,0.6,0.8,1.0,1.2,1.4,1.6],"format":".2f","grid":false,"domain":false,"tickColor":"black","tickWidth":1.5,"tickSize":-10,"labelFont":"DejaVu Serif","labelFontSize":52,"labelColor":"black","labelPadding":22,"labelOverlap":false,"labelFlush":false,"title":null}},
"y2":{"field":"w"},
"fill":{"field":"v","type":"quantitative","legend":null,"scale":{"domain":[0.3,0.475,0.65,0.825,1.0,1.175,1.35,1.525,1.7],"range":["#f7fbff","#deebf7","#c6dbef","#9ecae1","#6baed6","#4292c6","#2171b5","#08519c","#08306b"]}},
"stroke":{"field":"v","type":"quantitative","legend":null,"scale":{"domain":[0.3,0.475,0.65,0.825,1.0,1.175,1.35,1.525,1.7],"range":["#f7fbff","#deebf7","#c6dbef","#9ecae1","#6baed6","#4292c6","#2171b5","#08519c","#08306b"]}}}},
{"data":{"values":[{"v":0.3,"w":1.7}]},"mark":{"type":"rect","filled":false,"stroke":"black","strokeWidth":2.5},
"encoding":{"y":{"field":"v","type":"quantitative"},"y2":{"field":"w"}}}
]}
]}
